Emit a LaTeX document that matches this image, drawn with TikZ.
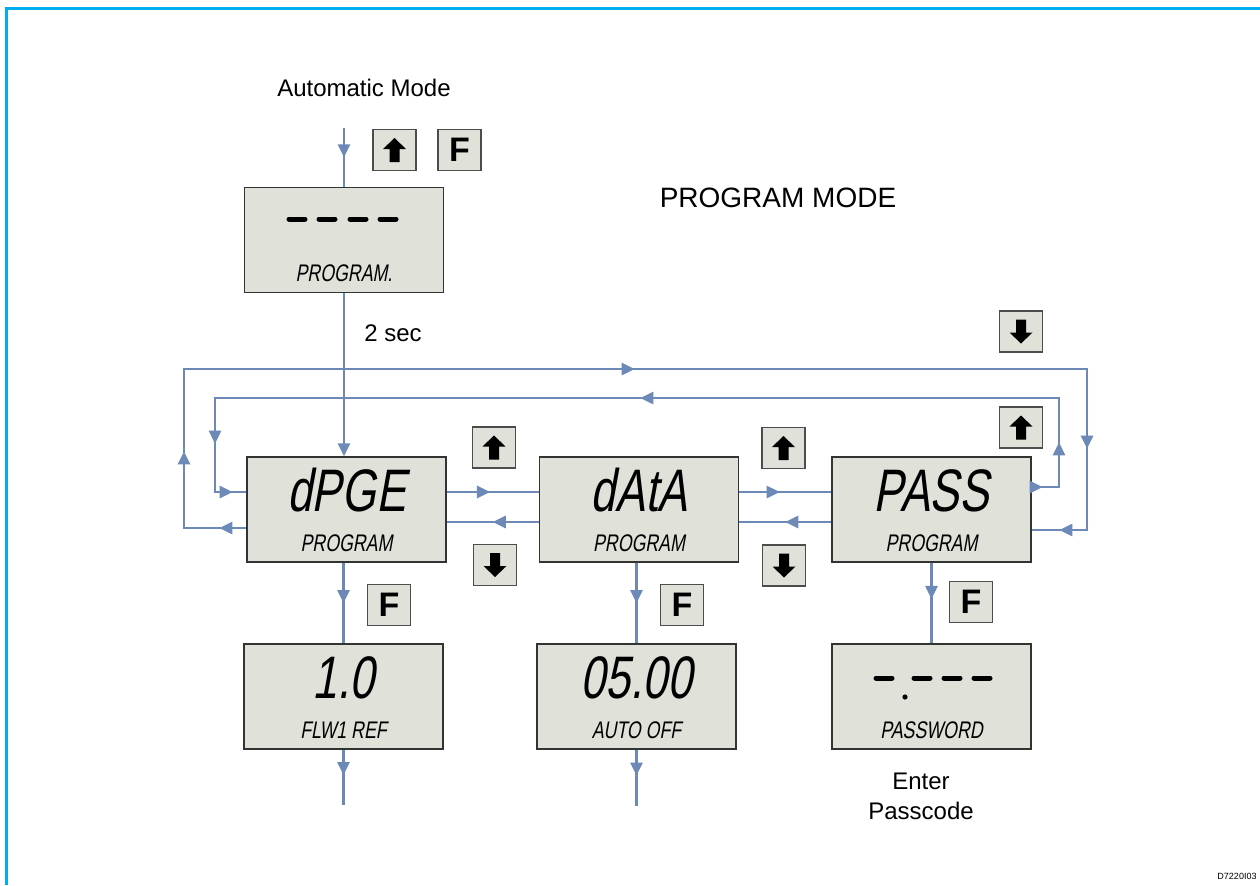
\documentclass[tikz,border=0pt]{standalone}
\usepackage{fontspec}
\setmainfont{Liberation Sans}
\newfontfamily\lcdfont[FakeSlant=0.18,FakeStretch=0.74]{Liberation Sans}
\newcommand{\lcdbig}{\lcdfont\fontsize{30}{30}\selectfont}
\newcommand{\lcdsmall}{\lcdfont\fontsize{12}{12}\selectfont}
\newcommand{\lcdtxt}[2]{{\lcdbig\vphantom{d}#1}\\{\lcdsmall #2}}
\usetikzlibrary{arrows.meta,positioning,calc,decorations.markings}
\definecolor{framecyan}{HTML}{00AEEF}
\definecolor{flowblue}{HTML}{6C89B7}
\definecolor{lcdbg}{HTML}{E0E1D9}
\tikzset{lcd/.style={draw=black!80,fill=lcdbg,line width=0.7pt,minimum width=99.5pt,minimum height=52.5pt,inner sep=0pt,align=center,font=\fontsize{12}{20}\selectfont},key/.style={draw=black!70,fill=lcdbg,line width=0.6pt,minimum width=21.5pt,minimum height=20.5pt,inner sep=0pt},fkey/.style={key,font=\bfseries\fontsize{17}{17}\selectfont},upkey/.style={key,path picture={\fill[black,shift={(path picture bounding box.center)}](0pt,6pt)--(5.75pt,0.5pt)--(2.5pt,0.5pt)--(2.5pt,-6pt)--(-2.5pt,-6pt)--(-2.5pt,0.5pt)--(-5.75pt,0.5pt)--cycle;}},dnkey/.style={key,path picture={\fill[black,shift={(path picture bounding box.center)}](0pt,-6pt)--(5.75pt,-0.5pt)--(2.5pt,-0.5pt)--(2.5pt,6pt)--(-2.5pt,6pt)--(-2.5pt,-0.5pt)--(-5.75pt,-0.5pt)--cycle;}},flowline/.style={draw=flowblue,line width=1.3pt},arr/.style={postaction={decorate,decoration={markings,mark=at position #1 with {\arrow{Triangle[length=6.5pt,width=6pt]}}}}},lab/.style={font=\fontsize{12}{15}\selectfont,align=center},seg/.style={line width=2.5pt,line cap=round}}

\begin{document}
\begin{tikzpicture}[x=0.5pt,y=-0.5pt]
\useasboundingbox (0,0) rectangle (1260,885);
\draw[framecyan,line width=1.5pt] (6,885)--(6,8)--(1260,8);
\node[lab] (automode) at (364,88) {Automatic Mode};
\node[lab,font=\fontsize{14}{16}\selectfont] (progmode) at (778,198) {PROGRAM MODE};
\node[lab] (twosec) at (393,333) {2 sec};
\node[lab] (enter) at (921,796) {Enter\\Passcode};
\node[font=\fontsize{4.5}{5}\selectfont] (drawno) at (1237,876) {D7220I03};
\node[lcd] (prog) at (344,240) {\lcdtxt{\phantom{8}}{PROGRAM.}};
\node[lcd] (dpge) at (346.5,509.5) {\lcdtxt{dPGE}{PROGRAM}};
\node[lcd] (data) at (639,509.5) {\lcdtxt{dAtA}{PROGRAM}};
\node[lcd] (pass) at (931.5,509.5) {\lcdtxt{PASS}{PROGRAM}};
\node[lcd] (flw) at (343.5,696.5) {\lcdtxt{1.0}{FLW1 REF}};
\node[lcd] (autooff) at (636.5,696.5) {\lcdtxt{05.00}{AUTO OFF}};
\node[lcd] (pwd) at (931.5,696.5) {\lcdtxt{\phantom{8}}{PASSWORD}};
\foreach \x in {297,327,358,388}{\draw[seg] (\x-8,219)--(\x+8,219);}
\foreach \x in {884,922,952,982}{\draw[seg] (\x-8,678)--(\x+8,678);}
\fill (905,697) circle (1.3pt);
\node[upkey] (k0) at (394.5,150) {};
\node[fkey] (f0) at (459.5,150) {F};
\node[upkey] (k1) at (494,447.5) {};
\node[dnkey] (k2) at (495,565) {};
\node[upkey] (k3) at (783.5,448) {};
\node[dnkey] (k4) at (784,565.5) {};
\node[dnkey] (k5) at (1021,331.5) {};
\node[upkey] (k6) at (1021,427.5) {};
\node[fkey] (f1) at (389,605) {F};
\node[fkey] (f2) at (682,605) {F};
\node[fkey] (f3) at (971,602) {F};
\coordinate (entry) at (344,128);
\coordinate (flwout) at (343.5,805);
\coordinate (autoout) at (636.5,806);
\coordinate (upr) at (1059,398);
\coordinate (upl) at (215,398);
\coordinate (dnl) at (184,369);
\coordinate (dnr) at (1087,369);
\draw[flowline,arr=0.5] (entry)--(prog.north);
\draw[flowline,-{Triangle[length=6.5pt,width=6pt]}] (prog.south)--(prog.south|-dpge.north);
\draw[flowline,arr=0.5] (flw.north|-dpge.south)--(flw.north);
\draw[flowline,arr=0.5] (autooff.north|-data.south)--(autooff.north);
\draw[flowline,arr=0.45] (pwd.north|-pass.south)--(pwd.north);
\draw[flowline,arr=0.46] (flw.south)--(flwout);
\draw[flowline,arr=0.46] (autooff.south)--(autoout);
\draw[flowline,arr=0.47] ([yshift=8.75pt]dpge.east)--([yshift=8.75pt]data.west);
\draw[flowline,arr=0.5] ([yshift=-6.25pt]data.west)--([yshift=-6.25pt]dpge.east);
\draw[flowline,arr=0.44] ([yshift=8.75pt]data.east)--([yshift=8.75pt]pass.west);
\draw[flowline,arr=0.5] ([yshift=-6.25pt]pass.west)--([yshift=-6.25pt]data.east);
\draw[flowline,arr=5.5pt,arr=36pt,arr=267.5pt,arr=503pt,arr=536pt] ([yshift=11.25pt]pass.east)-|(upr)--(upl)|-([yshift=8.75pt]dpge.west);
\draw[flowline,arr=13.5pt,arr=69.5pt,arr=336pt,arr=602pt,arr=656.5pt] ([yshift=-9.25pt]dpge.west)-|(dnl)--(dnr)|-([yshift=-10.25pt]pass.east);
\end{tikzpicture}
\end{document}
